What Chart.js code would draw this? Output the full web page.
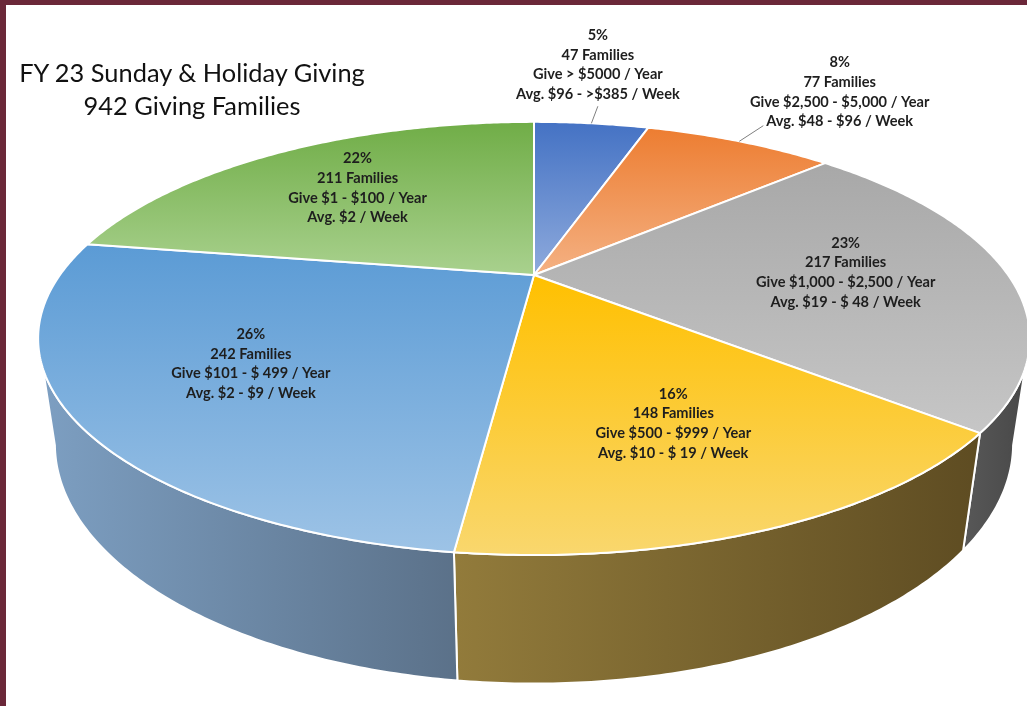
<!DOCTYPE html>
<html lang="en">
<head>
  <meta charset="UTF-8" />
  <title>FY 23 Sunday &amp; Holiday Giving</title>
  <script src="https://cdn.jsdelivr.net/npm/chart.js"></script>
  <style>
    html, body { margin: 0; padding: 0; background: #fff; }
    body { width: 1027px; height: 706px; position: relative; overflow: hidden; }
    #chart { position: absolute; left: 0; top: 0; }
    .frame-top { position: absolute; left: 0; top: 0; width: 1027px; height: 5px; background: #6b2839; }
    .frame-left { position: absolute; left: 0; top: 0; width: 6px; height: 706px; background: #6b2839; }
    .title {
      position: absolute; left: 12px; top: 56px; width: 360px;
      text-align: center; font-family: Lato, sans-serif; font-size: 25.4px;
      line-height: 33px; color: #111;
    }
  </style>
</head>
<body>
  <canvas id="chart" width="1027" height="706"></canvas>
  <div class="title">FY 23 Sunday &amp; Holiday Giving<br>942 Giving Families</div>
  <div class="frame-top"></div>
  <div class="frame-left"></div>

  <script>
    // slices, clockwise from 12 o'clock
    const families = [47, 77, 217, 148, 242, 211];
    const giveRanges = [
      "Give > $5000 / Year",
      "Give $2,500 - $5,000 / Year",
      "Give $1,000 - $2,500 / Year",
      "Give $500 - $999 / Year",
      "Give $101 - $ 499 / Year",
      "Give $1 - $100 / Year"
    ];
    const weeklyAvgs = [
      "Avg. $96 - >$385 / Week",
      "Avg. $48 - $96 / Week",
      "Avg. $19 - $ 48 / Week",
      "Avg. $10 - $ 19 / Week",
      "Avg. $2 - $9 / Week",
      "Avg. $2 / Week"
    ];

    // top face gradient (top -> bottom) and side wall gradient (left -> right)
    const topColors = [
      ["#4472c4", "#8eaadc"], ["#ed7d31", "#f4b183"], ["#a8a8a8", "#c6c6c6"],
      ["#ffc000", "#f9d76e"], ["#5b9bd5", "#9dc3e6"], ["#70ad47", "#a9d18e"]
    ];
    const sideColors = [
      ["#2f4f88", "#233b66"], ["#a5571f", "#7c4117"], ["#585858", "#474747"],
      ["#927b3b", "#5e4c22"], ["#7d9fc2", "#5b7189"], ["#4e7931", "#3a5a24"]
    ];

    // perspective of the 3D disk, relative to the pie radius
    const RX = 1.724, RY = 0.72, DEPTH = 0.378, TILT = 0.293, DROP = 0.032;
    const LH = 19.7;

    function proj(el, ang, rf, w) {
      const u = Math.cos(ang) * rf, v = -Math.sin(ang) * rf;
      const k = 1 / (1 + TILT * v + DROP * w);
      const r = el.outerRadius;
      return { x: el.x + RX * r * u * k, y: el.y - RY * r * v * k + DEPTH * r * w * k };
    }

    function arcPoints(el, a0, a1, rf, w) {
      const n = Math.max(2, Math.ceil((a1 - a0) / 0.01));
      const pts = [];
      for (let i = 0; i <= n; i++) pts.push(proj(el, a0 + (a1 - a0) * i / n, rf, w));
      return pts;
    }

    function fillPath(ctx, pts, fill) {
      ctx.beginPath();
      pts.forEach((p, j) => j ? ctx.lineTo(p.x, p.y) : ctx.moveTo(p.x, p.y));
      ctx.closePath();
      ctx.fillStyle = fill;
      ctx.fill();
      ctx.stroke();
    }

    const pie3d = {
      id: "pie3d",
      beforeDatasetDraw() { return false; },
      afterDatasetsDraw(chart) {
        const ctx = chart.ctx;
        const arcs = chart.getDatasetMeta(0).data;
        const lo = Math.asin(0.29), hi = Math.PI - lo;
        ctx.save();
        ctx.lineJoin = "round";
        ctx.strokeStyle = "#fff";
        ctx.lineWidth = 2;

        // side walls (front facing part only)
        arcs.forEach((el, i) => {
          const a0 = Math.max(el.startAngle, lo), a1 = Math.min(el.endAngle, hi);
          if (a1 <= a0) return;
          const pts = arcPoints(el, a0, a1, 1, 0).concat(arcPoints(el, a0, a1, 1, 1).reverse());
          const xs = pts.map(p => p.x);
          const g = ctx.createLinearGradient(Math.min(...xs), 0, Math.max(...xs), 0);
          g.addColorStop(0, sideColors[i][0]);
          g.addColorStop(1, sideColors[i][1]);
          fillPath(ctx, pts, g);
        });

        // top faces
        arcs.forEach((el, i) => {
          const pts = [proj(el, 0, 0, 0)].concat(arcPoints(el, el.startAngle, el.endAngle, 1, 0));
          const ys = pts.map(p => p.y);
          const g = ctx.createLinearGradient(0, Math.min(...ys), 0, Math.max(...ys));
          g.addColorStop(0, topColors[i][0]);
          g.addColorStop(1, topColors[i][1]);
          fillPath(ctx, pts, g);
        });
        ctx.restore();
      },
      afterDraw(chart) {
        const ctx = chart.ctx;
        const arcs = chart.getDatasetMeta(0).data;
        const total = families.reduce((a, b) => a + b, 0);
        ctx.save();
        ctx.font = "bold 14.6px Lato";
        ctx.fillStyle = "#1e1e1e";
        ctx.textAlign = "center";
        ctx.textBaseline = "middle";
        arcs.forEach((el, i) => {
          const share = families[i] / total;
          const lines = [Math.round(share * 100) + "%", families[i] + " Families", giveRanges[i], weeklyAvgs[i]];
          const mid = (el.startAngle + el.endAngle) / 2;
          let cx, lastY;
          if (share < 0.1) {
            const edge = proj(el, mid, 1, 0), end = proj(el, mid, 1.15, 0);
            ctx.beginPath();
            ctx.moveTo(edge.x, edge.y);
            ctx.lineTo(end.x, end.y);
            ctx.strokeStyle = "#7f7f7f";
            ctx.lineWidth = 1;
            ctx.stroke();
            if (Math.abs(Math.cos(mid)) < 0.3) {
              cx = end.x; lastY = end.y - 12;
            } else {
              cx = end.x + 3 + ctx.measureText(lines[3]).width / 2; lastY = end.y - 4;
            }
          } else {
            const p = proj(el, mid, 0.66, 0);
            cx = p.x; lastY = p.y + 1.5 * LH;
          }
          lines.forEach((t, j) => ctx.fillText(t, cx, lastY - (3 - j) * LH));
        });
        ctx.restore();
      }
    };

    new Chart(document.getElementById("chart"), {
      type: "pie",
      data: {
        labels: giveRanges,
        datasets: [{ data: families, borderWidth: 0 }]
      },
      options: {
        responsive: false,
        animation: false,
        layout: { padding: { left: 41, right: 0, top: 0, bottom: 156 } },
        plugins: { legend: { display: false }, tooltip: { enabled: false } }
      },
      plugins: [pie3d]
    });
  </script>
</body>
</html>
